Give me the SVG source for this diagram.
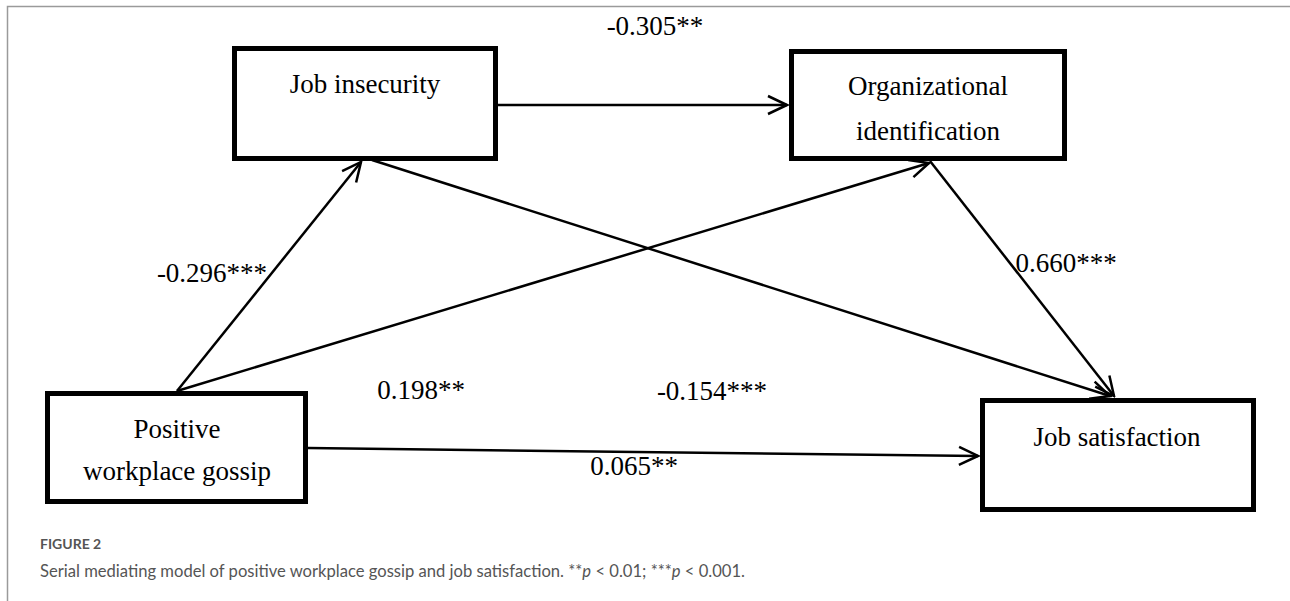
<svg xmlns="http://www.w3.org/2000/svg" width="1290" height="601" viewBox="0 0 1290 601">
<style>
.box{fill:#fff;stroke:#000;stroke-width:5}
.t{font-family:'Liberation Serif','Times New Roman','DejaVu Serif',serif;font-size:27px;fill:#000;text-anchor:middle}
.c{stroke:#000;stroke-width:2.5;fill:none}
.cap{font-family:Lato,'Open Sans',sans-serif;fill:#555}
</style>
<defs>
<marker id="ah" markerWidth="24" markerHeight="24" viewBox="-22 -11 24 22" refX="0" refY="0" orient="auto" markerUnits="userSpaceOnUse">
<path d="M-19,-9 L0,0 L-19,9" fill="none" stroke="#000" stroke-width="2.5"/>
</marker>
</defs>
<rect width="1290" height="601" fill="#fff"/>
<path d="M7.5,601 V6.5 H1290" fill="none" stroke="#9a9a9a" stroke-width="1.5"/>
<g id="connectors">
<line class="c" x1="498" y1="105" x2="787" y2="105" marker-end="url(#ah)"/>
<line class="c" x1="177" y1="391" x2="361" y2="162" marker-end="url(#ah)"/>
<line class="c" x1="177" y1="391" x2="929" y2="163" marker-end="url(#ah)"/>
<line class="c" x1="372" y1="160" x2="1110" y2="396" marker-end="url(#ah)"/>
<line class="c" x1="930" y1="161" x2="1114" y2="396" marker-end="url(#ah)"/>
<line class="c" x1="308" y1="448" x2="978" y2="456" marker-end="url(#ah)"/>
</g>
<g id="labels" font-family="Liberation Serif, serif">
<text class="t" x="655" y="35">-0.305**</text>
<text class="t" x="212" y="282">-0.296***</text>
<text class="t" x="421" y="399">0.198**</text>
<text class="t" x="712" y="400">-0.154***</text>
<text class="t" x="1066" y="272">0.660***</text>
<text class="t" x="634" y="475">0.065**</text>
</g>
<g id="job-insecurity">
<rect class="box" x="234.5" y="48.5" width="261" height="110"/>
<text class="t" x="365" y="93">Job insecurity</text>
</g>
<g id="organizational-identification">
<rect class="box" x="791.5" y="51.5" width="273" height="107"/>
<text class="t" x="928" y="95">Organizational</text>
<text class="t" x="928" y="140">identification</text>
</g>
<g id="positive-workplace-gossip">
<rect class="box" x="47.5" y="393.5" width="258" height="108"/>
<text class="t" x="177" y="438">Positive</text>
<text class="t" x="177" y="480">workplace gossip</text>
</g>
<g id="job-satisfaction">
<rect class="box" x="982.5" y="400.5" width="271" height="109"/>
<text class="t" x="1117" y="446">Job satisfaction</text>
</g>
<g id="caption">
<text class="cap" x="40" y="549" font-size="14" font-weight="bold" fill="#6d6e71">FIGURE 2</text>
<text class="cap" x="40" y="577" font-size="16.6">Serial mediating model of positive workplace gossip and job satisfaction. **<tspan font-style="italic">p</tspan> &lt; 0.01; ***<tspan font-style="italic">p</tspan> &lt; 0.001.</text>
</g>
</svg>
